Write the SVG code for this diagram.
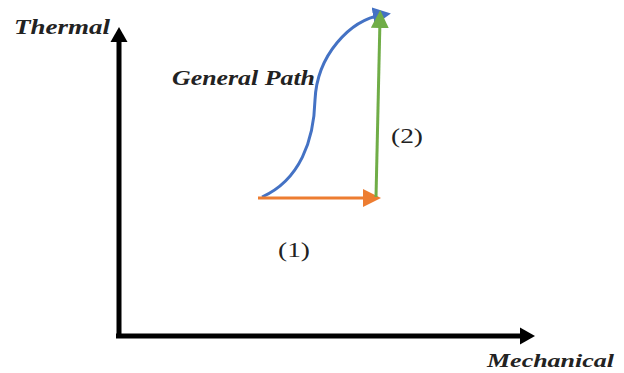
<svg xmlns="http://www.w3.org/2000/svg" width="624" height="373" viewBox="0 0 624 373">
<style>
.lbl{font-family:"Liberation Serif","DejaVu Serif",serif;font-style:italic;font-weight:bold;fill:#222}
.num{font-family:"Liberation Serif","DejaVu Serif",serif;font-size:21px;fill:#222}
.ax{stroke:#000;stroke-width:5;fill:none}
</style>
<defs>
<marker id="ak" markerWidth="4" markerHeight="4" refX="2" refY="2" orient="auto" markerUnits="strokeWidth"><path d="M0,0.3 L3,2 L0,3.7 Z" fill="#000"/></marker>
<marker id="ab" markerWidth="6" markerHeight="6" refX="3" refY="3" orient="auto" markerUnits="strokeWidth"><path d="M0,0 L6,3 L0,6 Z" fill="#4472C4"/></marker>
<marker id="ao" markerWidth="6" markerHeight="6" refX="3" refY="3" orient="auto" markerUnits="strokeWidth"><path d="M0,0 L6,3 L0,6 Z" fill="#ED7D31"/></marker>
<marker id="ag" markerWidth="6" markerHeight="6" refX="3" refY="3" orient="auto" markerUnits="strokeWidth"><path d="M0,0 L6,3 L0,6 Z" fill="#70AD47"/></marker>
</defs>
<g id="axes">
<path class="ax" d="M119,336 L119,32" marker-end="url(#ak)"/>
<path class="ax" d="M116,336 L530,336" marker-end="url(#ak)"/>
</g>
<g id="connectors">
<path d="M262,197 C300,180 314,140 315,100 C317,55 350,20 382,15" fill="none" stroke="#4472C4" stroke-width="3" marker-end="url(#ab)"/>
<path d="M258,198 L372,198" fill="none" stroke="#ED7D31" stroke-width="3" marker-end="url(#ao)"/>
<path d="M376,197 L380,19" fill="none" stroke="#70AD47" stroke-width="3" marker-end="url(#ag)"/>
</g>
<g id="labels">
<text class="lbl" x="14" y="34" font-size="20" textLength="96" lengthAdjust="spacingAndGlyphs">Thermal</text>
<text class="lbl" x="172" y="85" font-size="21" textLength="143" lengthAdjust="spacingAndGlyphs">General Path</text>
<text class="lbl" x="487" y="367" font-size="19" textLength="127" lengthAdjust="spacingAndGlyphs">Mechanical</text>
<text class="num" x="391" y="143" textLength="32" lengthAdjust="spacingAndGlyphs">(2)</text>
<text class="num" x="278" y="257" textLength="32" lengthAdjust="spacingAndGlyphs">(1)</text>
</g>
</svg>
